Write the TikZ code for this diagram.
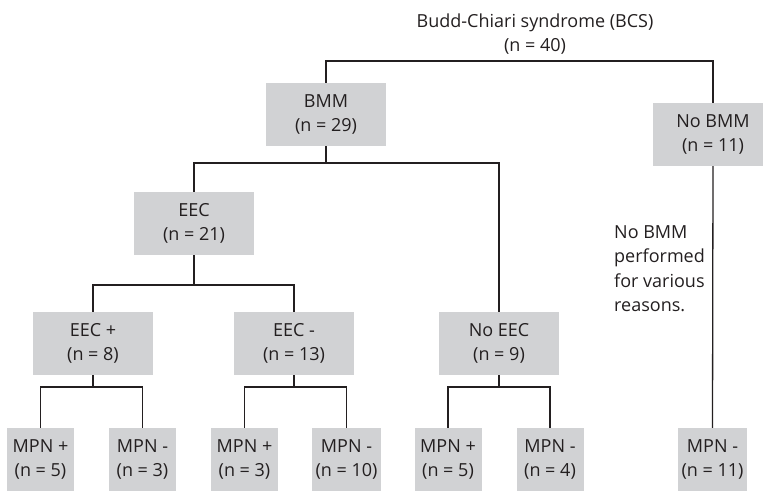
\documentclass[tikz,border=0pt]{standalone}
\usepackage{fontspec}
\setmainfont{Open Sans}
\definecolor{boxgray}{RGB}{209,210,212}
\definecolor{ink}{RGB}{35,31,32}
\begin{document}
\begin{tikzpicture}[x=1pt,y=-1pt,
  font=\fontsize{18}{24.5}\selectfont,
  box/.style={fill=boxgray,draw=none,minimum width=120pt,minimum height=63pt,inner sep=0pt,align=center,text=ink},
  small/.style={box,minimum width=67pt},
  conn/.style={draw=ink,line width=1.3pt}]
\useasboundingbox (0,0) rectangle (763,492);
\node[text=ink,align=center] (bcs) at (535,34) {Budd-Chiari syndrome (BCS)\\(n = 40)};
\node[box] (bmm) at (326,114.5) {BMM\\(n = 29)};
\node[box] (nobmm) at (713,134.5) {No BMM\\(n = 11)};
\node[box] (eec) at (194,223.5) {EEC\\(n = 21)};
\node[box] (eecp) at (93,343.5) {EEC +\\(n = 8)};
\node[box] (eecm) at (294,343.5) {EEC -\\(n = 13)};
\node[box] (noeec) at (499,343.5) {No EEC\\(n = 9)};
\node[small] (m1) at (40.5,459.5) {MPN +\\(n = 5)};
\node[small] (m2) at (142.5,459.5) {MPN -\\(n = 3)};
\node[small] (m3) at (244.5,459.5) {MPN +\\(n = 3)};
\node[small,minimum width=69pt] (m4) at (346.5,459.5) {MPN -\\(n = 10)};
\node[small] (m5) at (448,459.5) {MPN +\\(n = 5)};
\node[small] (m6) at (550,459.5) {MPN -\\(n = 4)};
\node[small,minimum width=69pt] (m7) at (712.5,459.5) {MPN -\\(n = 11)};
\node[text=ink,align=left,anchor=north west,inner sep=0pt] (why) at (614,225) {No BMM\\performed\\for various\\reasons.};
% connectors
\draw[conn] (bmm.north) -- (bmm.north |- 0,61) -| (nobmm.north);
\draw[conn] (bmm.south) -- (bmm.south |- 0,163) -| (eec.north);
\draw[conn] (bmm.south |- 0,163) -| (noeec.north);
\draw[conn] (eec.south) -- (eec.south |- 0,285) -| (eecp.north);
\draw[conn] (eec.south |- 0,285) -| (eecm.north);
\draw[conn] (eecp.south) -- (eecp.south |- 0,387) -| (m1.north);
\draw[conn] (eecp.south |- 0,387) -| (m2.north);
\draw[conn] (eecm.south) -- (eecm.south |- 0,387) -| (m3.north);
\draw[conn] (eecm.south |- 0,387) -| (m4.north);
\draw[conn] (noeec.south) -- (noeec.south |- 0,387) -| (m5.north);
\draw[conn] (noeec.south |- 0,387) -| (m6.north);
\draw[conn] (nobmm.south) -- (m7.north);
\end{tikzpicture}
\end{document}
